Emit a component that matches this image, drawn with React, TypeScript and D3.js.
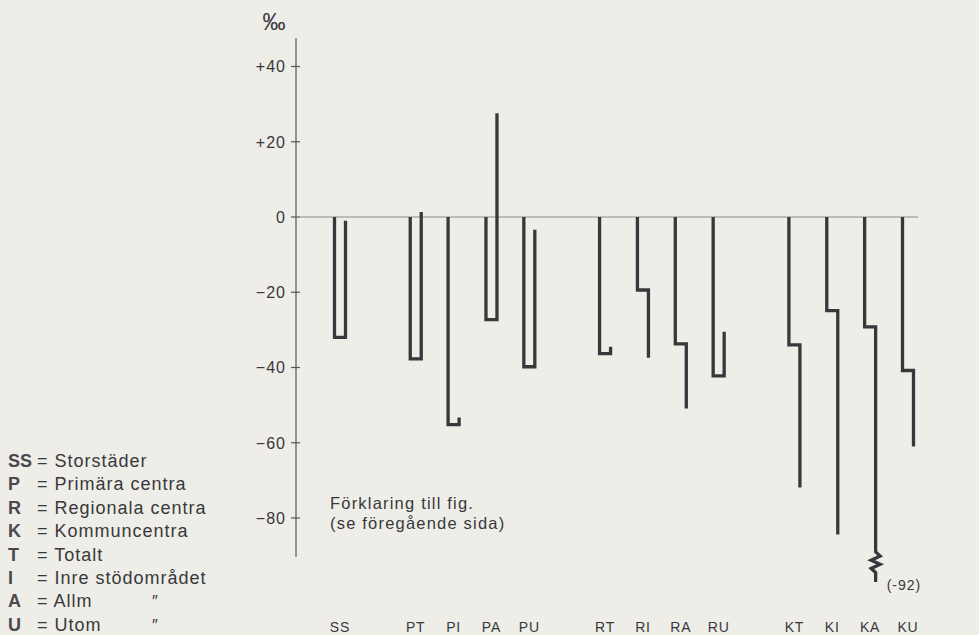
import React from 'react';
import * as d3 from 'd3';

// columns, with empty slots between the groups
const slots = ['SS', 'g1', 'PT', 'PI', 'PA', 'PU', 'g2', 'RT', 'RI', 'RA', 'RU', 'g3', 'KT', 'KI', 'KA', 'KU'];
const categories = ['SS', 'PT', 'PI', 'PA', 'PU', 'RT', 'RI', 'RA', 'RU', 'KT', 'KI', 'KA', 'KU'];
// first and second period, per mille
const firstValues = [-32, -37.7, -55.2, -27.3, -39.8, -36.3, -19.4, -33.7, -42.2, -34, -24.9, -29.2, -40.8];
const secondValues = [-1, 1.3, -53.3, 27.6, -3.4, -34.5, -37.4, -50.9, -30.5, -71.9, -84.4, -92, -61];
// KA runs off the scale and is drawn broken
const brokenCategory = 'KA';
const brokenFrom = -89;
const brokenTo = -94.5;
const brokenEnd = -97;

const yTicks = [40, 20, 0, -20, -40, -60, -80];
const tickLabels = ['+40', '+20', '0', '\u221220', '\u221240', '\u221260', '\u221280'];

const legendKeys = ['SS', 'P', 'R', 'K', 'T', 'I', 'A', 'U'];
const legendTexts = ['Storstäder', 'Primära centra', 'Regionala centra', 'Kommuncentra', 'Totalt', 'Inre stödområdet', 'Allm', 'Utom'];
const legendDitto = ['', '', '', '', '', '', '\u2033', '\u2033'];

const W = 979;
const H = 635;
const ink = '#38383c';
const font = '"Liberation Sans", Arial, sans-serif';

export default function App() {
  const x = d3.scalePoint<string>().domain(slots).range([340, 908]);
  const y = d3.scaleLinear().domain([0, -80]).range([217, 518]);
  const axisX = 296;
  const half = 5.5;

  const paths = categories.map((c, i) => {
    const cx = x(c) as number;
    const x1 = cx - half;
    const x2 = cx + half;
    const p = d3.path();
    p.moveTo(x1, y(0));
    p.lineTo(x1, y(firstValues[i]));
    p.lineTo(x2, y(firstValues[i]));
    if (c === brokenCategory) {
      const a = y(brokenFrom);
      const b = y(brokenTo);
      p.lineTo(x2, a);
      const n = 5;
      for (let k = 1; k < n; k++) {
        p.lineTo(x2 + (k % 2 ? 4.5 : -4.5), a + ((b - a) * k) / n);
      }
      p.lineTo(x2, b);
      p.lineTo(x2, y(brokenEnd));
    } else {
      p.lineTo(x2, y(secondValues[i]));
    }
    return { c, d: p.toString(), cx, x2 };
  });

  const ka = paths.find((p) => p.c === brokenCategory)!;
  const kaIdx = categories.indexOf(brokenCategory);

  return (
    <svg
      width={W}
      height={H}
      style={{ position: 'fixed', left: 0, top: 0, background: '#eeede7' }}
      fontFamily={font}
    >
      <rect width={W} height={H} fill="#eeede7" />

      {/* axis */}
      <line x1={axisX} x2={axisX} y1={y(47.5)} y2={y(-90.3)} stroke="#555" strokeWidth={1.2} />
      <text x={274} y={30} fontSize={23} fill={ink} textAnchor="middle">‰</text>
      {yTicks.map((t, i) => (
        <g key={t}>
          <line x1={axisX - 5} x2={axisX + 4} y1={y(t)} y2={y(t)} stroke="#555" strokeWidth={1.2} />
          <text
            x={axisX - 10}
            y={y(t)}
            dy="0.36em"
            fontSize={16}
            letterSpacing={1}
            textAnchor="end"
            fill={ink}
          >
            {tickLabels[i]}
          </text>
        </g>
      ))}

      {/* zero line */}
      <line x1={axisX} x2={(x('KU') as number) + 10} y1={y(0)} y2={y(0)} stroke="#8a8a8a" strokeWidth={1} />

      {paths.map((p) => (
        <path key={p.c} d={p.d} fill="none" stroke={ink} strokeWidth={3.3} strokeLinejoin="miter" />
      ))}

      <text x={ka.x2 + 11} y={y(brokenEnd) + 8} fontSize={14} letterSpacing={1} fill={ink}>
        ({secondValues[kaIdx]})
      </text>

      {/* category labels */}
      {categories.map((c) => (
        <text
          key={c}
          x={x(c) as number}
          y={632}
          fontSize={14}
          letterSpacing={0.8}
          textAnchor="middle"
          fill={ink}
        >
          {c}
        </text>
      ))}

      {/* explanation */}
      <text x={330} y={509} fontSize={16.5} letterSpacing={1.2} fill={ink}>
        Förklaring till fig.
      </text>
      <text x={330} y={529} fontSize={16.5} letterSpacing={1.2} fill={ink}>
        (se föregående sida)
      </text>

      {/* legend */}
      {legendKeys.map((k, i) => {
        const ly = 467 + i * 23.4;
        return (
          <g key={k} fill={ink}>
            <text x={8} y={ly} fontSize={18} fontWeight="bold" fill="#4a4a4e">
              {k}
            </text>
            <text x={37} y={ly} fontSize={18} letterSpacing={1}>
              = {legendTexts[i]}
            </text>
            {legendDitto[i] && (
              <text x={152} y={ly} fontSize={16} fill={ink}>
                {legendDitto[i]}
              </text>
            )}
          </g>
        );
      })}
    </svg>
  );
}
